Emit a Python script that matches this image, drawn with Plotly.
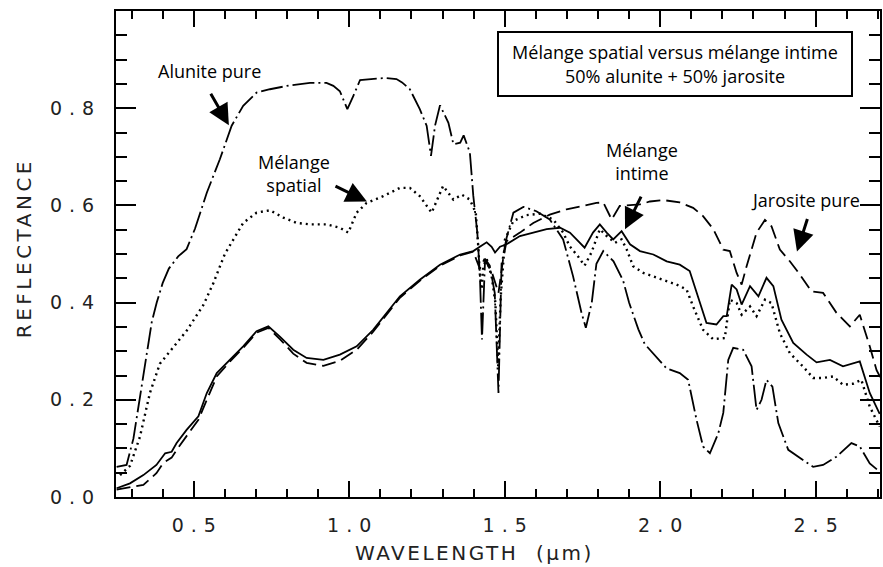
import plotly.graph_objects as go

# ---------------- data ----------------
alunite_x = [0.252, 0.284, 0.306, 0.330, 0.349, 0.365, 0.381, 0.400, 0.420, 0.450, 0.477, 0.504,
             0.542, 0.584, 0.622, 0.659, 0.702, 0.745, 0.809, 0.874, 0.927, 0.949, 0.970, 0.994,
             1.013, 1.035, 1.088, 1.117, 1.152, 1.170, 1.195, 1.227, 1.249, 1.263, 1.276, 1.292,
             1.319, 1.335, 1.357, 1.368, 1.388, 1.399, 1.412, 1.420, 1.427, 1.437, 1.452, 1.468,
             1.480, 1.490, 1.506, 1.528, 1.560, 1.602, 1.645, 1.688, 1.720, 1.747, 1.761, 1.780,
             1.795, 1.817, 1.850, 1.881, 1.900, 1.930, 1.950, 1.988, 2.020, 2.063, 2.090, 2.117,
             2.138, 2.160, 2.187, 2.203, 2.219, 2.235, 2.267, 2.294, 2.310, 2.326, 2.342, 2.361,
             2.380, 2.412, 2.444, 2.492, 2.524, 2.567, 2.615, 2.642, 2.674, 2.712]
alunite_y = [0.062, 0.066, 0.120, 0.220, 0.290, 0.360, 0.400, 0.440, 0.470, 0.495, 0.510, 0.552,
             0.626, 0.695, 0.764, 0.805, 0.832, 0.839, 0.847, 0.852, 0.852, 0.846, 0.835, 0.798,
             0.825, 0.858, 0.861, 0.862, 0.860, 0.853, 0.839, 0.798, 0.764, 0.702, 0.764, 0.806,
             0.770, 0.726, 0.729, 0.744, 0.709, 0.620, 0.544, 0.460, 0.324, 0.490, 0.476, 0.420,
             0.214, 0.480, 0.533, 0.585, 0.597, 0.588, 0.571, 0.530, 0.454, 0.379, 0.348, 0.400,
             0.480, 0.506, 0.485, 0.445, 0.400, 0.345, 0.315, 0.287, 0.265, 0.255, 0.241, 0.159,
             0.104, 0.090, 0.131, 0.173, 0.282, 0.307, 0.303, 0.269, 0.179, 0.200, 0.241, 0.227,
             0.152, 0.097, 0.083, 0.062, 0.066, 0.083, 0.111, 0.104, 0.069, 0.049]

spatial_x = [0.263, 0.295, 0.327, 0.359, 0.391, 0.434, 0.477, 0.531, 0.563, 0.600, 0.659, 0.702,
             0.745, 0.788, 0.831, 0.874, 0.927, 0.970, 0.997, 1.024, 1.056, 1.109, 1.163, 1.195,
             1.227, 1.265, 1.302, 1.335, 1.362, 1.388, 1.407, 1.415, 1.420, 1.426, 1.431, 1.442,
             1.458, 1.470, 1.479, 1.487, 1.501, 1.528, 1.570, 1.613, 1.656, 1.688, 1.709, 1.736,
             1.757, 1.779, 1.806, 1.828, 1.855, 1.876, 1.892, 1.913, 1.946, 1.978, 2.021, 2.053,
             2.085, 2.106, 2.138, 2.170, 2.208, 2.224, 2.246, 2.262, 2.289, 2.310, 2.337, 2.358,
             2.385, 2.417, 2.460, 2.492, 2.524, 2.556, 2.588, 2.620, 2.647, 2.674, 2.706]
spatial_y = [0.045, 0.064, 0.124, 0.214, 0.274, 0.308, 0.342, 0.395, 0.440, 0.500, 0.564, 0.585,
             0.590, 0.575, 0.564, 0.561, 0.561, 0.554, 0.544, 0.585, 0.605, 0.619, 0.636, 0.636,
             0.619, 0.585, 0.640, 0.612, 0.622, 0.612, 0.585, 0.516, 0.460, 0.427, 0.475, 0.490,
             0.454, 0.400, 0.269, 0.410, 0.530, 0.568, 0.580, 0.583, 0.571, 0.544, 0.516, 0.495,
             0.476, 0.503, 0.551, 0.537, 0.523, 0.530, 0.510, 0.475, 0.461, 0.454, 0.444, 0.437,
             0.427, 0.392, 0.344, 0.325, 0.327, 0.406, 0.399, 0.375, 0.392, 0.372, 0.406, 0.399,
             0.337, 0.296, 0.268, 0.245, 0.245, 0.248, 0.231, 0.233, 0.241, 0.186, 0.145]

intime_x = [0.252, 0.295, 0.338, 0.380, 0.408, 0.429, 0.445, 0.477, 0.515, 0.542, 0.574, 0.617,
            0.659, 0.702, 0.740, 0.777, 0.820, 0.863, 0.917, 0.970, 1.024, 1.077, 1.120, 1.163,
            1.227, 1.292, 1.357, 1.399, 1.420, 1.442, 1.458, 1.469, 1.485, 1.506, 1.549, 1.592,
            1.635, 1.678, 1.710, 1.731, 1.757, 1.784, 1.806, 1.828, 1.849, 1.876, 1.903, 1.935,
            1.978, 2.021, 2.063, 2.095, 2.117, 2.149, 2.181, 2.203, 2.214, 2.230, 2.246, 2.262,
            2.289, 2.316, 2.342, 2.364, 2.390, 2.428, 2.471, 2.503, 2.546, 2.588, 2.642, 2.674, 2.706]
intime_y = [0.018, 0.028, 0.045, 0.066, 0.090, 0.093, 0.111, 0.138, 0.166, 0.214, 0.255, 0.282,
            0.310, 0.341, 0.351, 0.330, 0.303, 0.286, 0.282, 0.293, 0.310, 0.344, 0.379, 0.413,
            0.447, 0.478, 0.499, 0.506, 0.515, 0.524, 0.515, 0.503, 0.515, 0.520, 0.537, 0.544,
            0.551, 0.554, 0.544, 0.530, 0.513, 0.544, 0.561, 0.544, 0.530, 0.547, 0.520, 0.506,
            0.499, 0.485, 0.478, 0.465, 0.420, 0.358, 0.355, 0.372, 0.372, 0.437, 0.427, 0.396,
            0.434, 0.413, 0.451, 0.434, 0.365, 0.317, 0.293, 0.277, 0.282, 0.269, 0.279, 0.214, 0.171]

jarosite_x = [0.252, 0.338, 0.380, 0.402, 0.429, 0.445, 0.515, 0.574, 0.617, 0.659, 0.702, 0.740,
              0.777, 0.820, 0.863, 0.917, 0.970, 1.024, 1.077, 1.120, 1.163, 1.227, 1.292, 1.357,
              1.399, 1.420, 1.435, 1.460, 1.480, 1.495, 1.506, 1.549, 1.592, 1.645, 1.699, 1.752,
              1.795, 1.817, 1.844, 1.870, 1.935, 1.967, 2.010, 2.063, 2.106, 2.138, 2.171, 2.203,
              2.224, 2.246, 2.262, 2.278, 2.310, 2.337, 2.358, 2.385, 2.417, 2.449, 2.487, 2.524,
              2.567, 2.610, 2.642, 2.674, 2.696, 2.712]
jarosite_y = [0.015, 0.025, 0.049, 0.070, 0.081, 0.097, 0.159, 0.248, 0.279, 0.307, 0.338, 0.348,
              0.325, 0.295, 0.276, 0.270, 0.280, 0.303, 0.340, 0.375, 0.410, 0.445, 0.476, 0.497,
              0.505, 0.470, 0.490, 0.460, 0.420, 0.490, 0.526, 0.544, 0.564, 0.581, 0.592, 0.599,
              0.605, 0.606, 0.571, 0.599, 0.602, 0.608, 0.611, 0.606, 0.595, 0.578, 0.551, 0.509,
              0.506, 0.461, 0.437, 0.475, 0.544, 0.570, 0.557, 0.509, 0.485, 0.458, 0.423, 0.420,
              0.379, 0.351, 0.375, 0.310, 0.261, 0.241]

x_tick_vals = [0.5, 1.0, 1.5, 2.0, 2.5]
x_tick_text = ["0.5", "1.0", "1.5", "2.0", "2.5"]
y_tick_vals = [0.0, 0.2, 0.4, 0.6, 0.8]
y_tick_text = ["0.0", "0.2", "0.4", "0.6", "0.8"]

# ---------------- figure ----------------
def spaced(t, sp):
    return '<span style="letter-spacing:%spx">%s</span>%s' % (sp, t[:-1], t[-1])

fig = go.Figure()
fig.add_trace(go.Scatter(x=alunite_x, y=alunite_y, mode="lines",
                         line=dict(color="black", width=1.8, dash="22px,4px,2px,4px")))
fig.add_trace(go.Scatter(x=spatial_x, y=spatial_y, mode="lines",
                         line=dict(color="black", width=2.4, dash="2px,4px")))
fig.add_trace(go.Scatter(x=intime_x, y=intime_y, mode="lines",
                         line=dict(color="black", width=1.8)))
fig.add_trace(go.Scatter(x=jarosite_x, y=jarosite_y, mode="lines",
                         line=dict(color="black", width=1.8, dash="14px,6px")))

tickfont = dict(family="DejaVu Sans", size=19, color="#222")
fig.update_layout(
    width=883, height=567,
    margin=dict(l=116, r=3, t=11, b=70, autoexpand=False),
    paper_bgcolor="white", plot_bgcolor="white",
    showlegend=False,
    xaxis=dict(range=[0.25, 2.707], showgrid=False, zeroline=False, automargin=False,
               showline=True, linecolor="black", linewidth=2, mirror="ticks",
               ticks="inside", ticklen=16, tickwidth=2, tickcolor="black",
               tickvals=x_tick_vals, ticktext=[spaced(t, 7) for t in x_tick_text],
               tickfont=tickfont, ticklabelstandoff=10,
               minor=dict(dtick=0.1, tick0=0, ticks="inside", ticklen=8, tickwidth=1.8,
                          tickcolor="black")),
    yaxis=dict(range=[0, 1.0], showgrid=False, zeroline=False, automargin=False,
               showline=True, linecolor="black", linewidth=2, mirror="ticks",
               ticks="inside", ticklen=20, tickwidth=2, tickcolor="black",
               tickvals=y_tick_vals, ticktext=[spaced(t, 7) for t in y_tick_text],
               tickfont=tickfont, ticklabelstandoff=16,
               minor=dict(dtick=0.05, tick0=0, ticks="inside", ticklen=11, tickwidth=1.8,
                          tickcolor="black")),
)

annfont = dict(family="Open Sans", size=18, color="black")
anns = [
    dict(x=0.4686, y=-0.115, xref="paper", yref="paper", showarrow=False,
         text='<span style="letter-spacing:2.5px">WAVELENGTH\u00a0\u00a0(\u00b5m)</span>',
         font=dict(family="DejaVu Sans", size=20, color="#222"), xanchor="center", yanchor="middle"),
    dict(x=-0.1204, y=0.512, xref="paper", yref="paper", showarrow=False, textangle=-90,
         text='<span style="letter-spacing:3.5px">REFLECTANCE</span>',
         font=dict(family="DejaVu Sans", size=20, color="#222"), xanchor="center", yanchor="middle"),
    dict(x=2.047, y=0.891, xref="x", yref="y", showarrow=False,
         text="Mélange spatial versus mélange intime<br>50% alunite + 50% jarosite",
         font=annfont, bordercolor="black", borderwidth=2, borderpad=0,
         width=352, height=62, bgcolor="white", align="center"),
    dict(x=0.552, y=0.876, xref="x", yref="y", showarrow=False, text="Alunite pure", font=annfont),
    dict(x=0.822, y=0.666, xref="x", yref="y", showarrow=False, text="Mélange<br>spatial", font=annfont),
    dict(x=1.941, y=0.691, xref="x", yref="y", showarrow=False, text="Mélange<br>intime", font=annfont),
    dict(x=2.469, y=0.612, xref="x", yref="y", showarrow=False, text="Jarosite pure", font=annfont),
]
arrows = [
    ((0.552, 0.833), (0.613, 0.765)),
    ((0.951, 0.641), (1.057, 0.608)),
    ((1.941, 0.621), (1.887, 0.551)),
    ((2.475, 0.575), (2.440, 0.505)),
]
for (tx, ty), (hx, hy) in arrows:
    anns.append(dict(x=hx, y=hy, ax=tx, ay=ty, xref="x", yref="y", axref="x", ayref="y",
                     text="", showarrow=True, arrowhead=2, arrowsize=1.4, arrowwidth=3,
                     arrowcolor="black"))
fig.update_layout(annotations=anns)

fig.write_html("out.html", config={"displayModeBar": False},
               post_script="document.body.style.margin='0';")
